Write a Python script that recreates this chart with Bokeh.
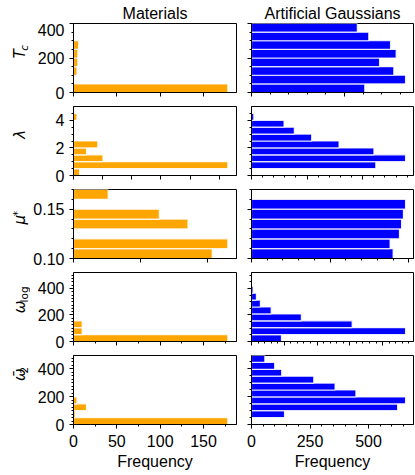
import math
from bokeh.plotting import figure
from bokeh.models import (Range1d, FixedTicker, CustomJSTickFormatter, ColumnDataSource,
                          PrintfTickFormatter)
from bokeh.core.properties import value
from bokeh.layouts import column, row
from bokeh.embed import file_html
from bokeh.resources import INLINE

# ---------------- data ----------------
col_titles = ["Materials", "Artificial Gaussians"]
x_label = "Frequency"

tc_edges = [0, 50, 100, 150, 200, 250, 300, 350, 400]
tc_materials = [178, 0, 4, 5, 5, 6, 0, 0]
tc_gauss = [484, 658, 608, 547, 618, 594, 501, 452]

lam_edges = [0, 0.5, 1.0, 1.5, 2.0, 2.5, 3.0, 3.5, 4.0, 4.5, 5.0]
lam_materials = [7, 178, 34, 15, 28, 1, 0, 0, 4, 0]
lam_gauss = [0, 531, 658, 523, 374, 257, 183, 139, 10, 0]

mu_edges = [0.10, 0.11, 0.12, 0.13, 0.14, 0.15, 0.16, 0.17]
mu_materials = [160, 178, 0, 132, 99, 0, 40]
mu_gauss = [605, 592, 632, 641, 649, 658, 0]

wlog_edges = [0, 52, 104, 156, 208, 260, 312, 364, 416, 468, 520]
wlog_materials = [178, 10, 10, 0, 0, 0, 0, 0, 0, 0]
wlog_gauss = [128, 658, 430, 213, 84, 38, 21, 7, 0, 0]

w2_edges = [0, 49.5, 99, 148.5, 198, 247.5, 297, 346.5, 396, 445.5, 495]
w2_materials = [178, 2, 15, 4, 0, 0, 0, 0, 0, 0]
w2_gauss = [0, 141, 624, 658, 446, 357, 266, 129, 99, 57]

# tick values
y_major = [[0, 200, 400], [0, 2, 4], [0.10, 0.15], [0, 200, 400], [0, 200, 400]]
y_minor_left = [[50, 100, 150, 250, 300, 350],
                [0.5, 1, 1.5, 2.5, 3, 3.5, 4.5],
                [0.11, 0.12, 0.13, 0.14, 0.16, 0.17],
                [25, 50, 75, 100, 125, 150, 175, 225, 250, 275, 300, 325, 350, 375, 425, 450, 475, 500],
                [25, 50, 75, 100, 125, 150, 175, 225, 250, 275, 300, 325, 350, 375, 425, 450, 475]]
y_minor_right = [y_minor_left[0], y_minor_left[1], y_minor_left[2],
                 [50, 100, 150, 250, 300, 350, 450, 500],
                 [50, 100, 150, 250, 300, 350, 450]]

x_left_major = [[0, 50, 100, 150], [0, 33.5, 67.3, 100.8, 134.6, 168], [0, 77.6, 154.6],
                [0, 50, 100, 150], [0, 50, 100, 150]]
x_left_minor = [[], [], [], [25, 75, 125, 175], [25, 75, 125, 175]]
x_right_major = [[0, 397.5], [0, 237.5, 475], [0, 336, 672], [0, 140, 280, 420, 560], [0, 250, 500]]
x_right_minor = [[79.5, 159, 238.5, 318, 477, 556.5, 636],
                 [47.5 * k for k in range(1, 15) if k % 5],
                 [67.2 * k for k in range(1, 10) if k % 5],
                 [28 * k for k in range(1, 25) if k % 5],
                 [50, 100, 150, 200, 300, 350, 400, 450, 550, 600, 650]]

panels = [
    (tc_edges, tc_materials, tc_gauss),
    (lam_edges, lam_materials, lam_gauss),
    (mu_edges, mu_materials, mu_gauss),
    (wlog_edges, wlog_materials, wlog_gauss),
    (w2_edges, w2_materials, w2_gauss),
]

# y-axis labels: list of (text, size, style, shift-down px)
FS = 15
SUB = 10.5
y_labels = [
    [("T", FS, "italic", 0), ("c", SUB, "italic", 3.5)],
    [("λ", FS, "italic", 0)],
    [("μ", FS, "italic", 0), ("*", SUB, "normal", -3.5)],
    [("ω", FS, "italic", 0), ("log", SUB, "normal", 3.5)],
    [("ω\u0304", FS, "italic", 0), ("2", SUB, "normal", 3.5)],
]
EM = {"T": 0.611, "c": 0.55, "λ": 0.592, "μ": 0.66, "ω": 0.87, "\u0304": 0.0,
      "*": 0.5, "l": 0.278, "o": 0.612, "g": 0.635, "2": 0.636}

# ---------------- layout ----------------
FONT = "Liberation Sans"
TOTAL_W = 415
STRIP_W = 30
LEFT_W, RIGHT_W = 214, 171
TITLE_H = 23
FRAME_H = 69
heights = [83, 83, 83, 83, 120]
bottoms = [14, 14, 14, 14, 51]
x_max = [188, 692]
colors = ["orange", "blue"]


def bare_figure(w, h):
    p = figure(width=w, height=h, output_backend="svg", toolbar_location=None,
               x_range=Range1d(0, w), y_range=Range1d(0, h),
               min_border_left=0, min_border_right=0, min_border_top=0, min_border_bottom=0,
               x_axis_type=None, y_axis_type=None)
    p.xgrid.visible = False
    p.ygrid.visible = False
    p.outline_line_color = None
    p.background_fill_color = "white"
    p.border_fill_color = "white"
    return p


def style_axis(ax, major, minor, show_labels):
    ax.ticker = FixedTicker(ticks=major, minor_ticks=minor)
    ax.axis_line_color = "black"
    ax.axis_line_width = 1
    ax.major_tick_line_color = "black"
    ax.minor_tick_line_color = "black"
    ax.major_tick_line_width = 1
    ax.minor_tick_line_width = 1
    ax.major_tick_in = 0
    ax.major_tick_out = 4
    ax.minor_tick_in = 0
    ax.minor_tick_out = 2
    ax.major_label_text_font = FONT
    ax.major_label_text_color = "black"
    if show_labels:
        ax.major_label_text_font_size = "16px"
        ax.major_label_standoff = 5
    else:
        ax.formatter = CustomJSTickFormatter(code="return ''")
        ax.major_label_text_font_size = "1px"
        ax.major_label_standoff = 0


def make_panel(r, c):
    edges, mat, gau = panels[r]
    counts = mat if c == 0 else gau
    w = LEFT_W if c == 0 else RIGHT_W
    bl, br = (43, 8) if c == 0 else (7, 2)
    p = figure(width=w, height=heights[r], output_backend="svg", toolbar_location=None,
               x_range=Range1d(0, x_max[c]), y_range=Range1d(edges[0], edges[-1]),
               min_border_left=bl, min_border_right=br,
               min_border_top=0, min_border_bottom=bottoms[r])
    p.xgrid.visible = False
    p.ygrid.visible = False
    p.background_fill_color = "white"
    p.border_fill_color = "white"
    p.outline_line_color = "black"
    p.outline_line_width = 1
    p.outline_line_alpha = 1

    keep = [i for i, v in enumerate(counts) if v > 0]
    src = ColumnDataSource(dict(
        bottom=[edges[i] for i in keep],
        top=[edges[i + 1] for i in keep],
        right=[counts[i] for i in keep],
    ))
    p.quad(left=0, right="right", bottom="bottom", top="top", source=src,
           fill_color=colors[c], line_color="white", line_alpha=0.85, line_width=1.2)

    last = r == len(panels) - 1
    xmaj = x_left_major[r] if c == 0 else x_right_major[r]
    xmin = x_left_minor[r] if c == 0 else x_right_minor[r]
    style_axis(p.xaxis[0], xmaj, xmin, last)
    ymin = y_minor_left[r] if c == 0 else y_minor_right[r]
    style_axis(p.yaxis[0], y_major[r], ymin, c == 0)
    if c == 0 and r == 2:
        p.yaxis[0].formatter = PrintfTickFormatter(format="%.2f")

    if last:
        ax = p.xaxis[0]
        ax.axis_label = x_label
        ax.axis_label_text_font = FONT
        ax.axis_label_text_font_size = "16px"
        ax.axis_label_text_font_style = "normal"
        ax.axis_label_text_color = "black"
        ax.axis_label_standoff = 3
        ax.major_label_standoff = 6
    return p


def make_label_strip(r):
    h = heights[r]
    p = bare_figure(STRIP_W, h)
    parts = y_labels[r]
    widths = [sum(EM.get(ch, 0.6) for ch in t) * s for t, s, _, _ in parts]
    centre = h - FRAME_H / 2
    pos = centre - sum(widths) / 2
    base_x = 19.5
    for (t, s, st, sh), wd in zip(parts, widths):
        p.text(x=[base_x + sh], y=[pos], text=[t], angle=math.pi / 2,
               text_align="left", text_baseline="alphabetic",
               text_font=value("DejaVu Sans"), text_font_style=st,
               text_font_size=value(f"{s}px"), text_color="black")
        pos += wd
    return p


def make_title_strip():
    p = bare_figure(TOTAL_W, TITLE_H)
    centres = [STRIP_W + 43 + (LEFT_W - 43 - 8) / 2,
               STRIP_W + LEFT_W + 7 + (RIGHT_W - 7 - 2) / 2]
    p.text(x=centres, y=[TITLE_H - 12.5] * 2, text=col_titles,
           text_align="center", text_baseline="alphabetic",
           text_font=value(FONT), text_font_size=value("16px"), text_color="black")
    return p


rows = [make_title_strip()]
for r in range(len(panels)):
    rows.append(row(make_label_strip(r), make_panel(r, 0), make_panel(r, 1)))
layout = column(*rows)

open("out.html", "w").write(file_html(layout, INLINE))
